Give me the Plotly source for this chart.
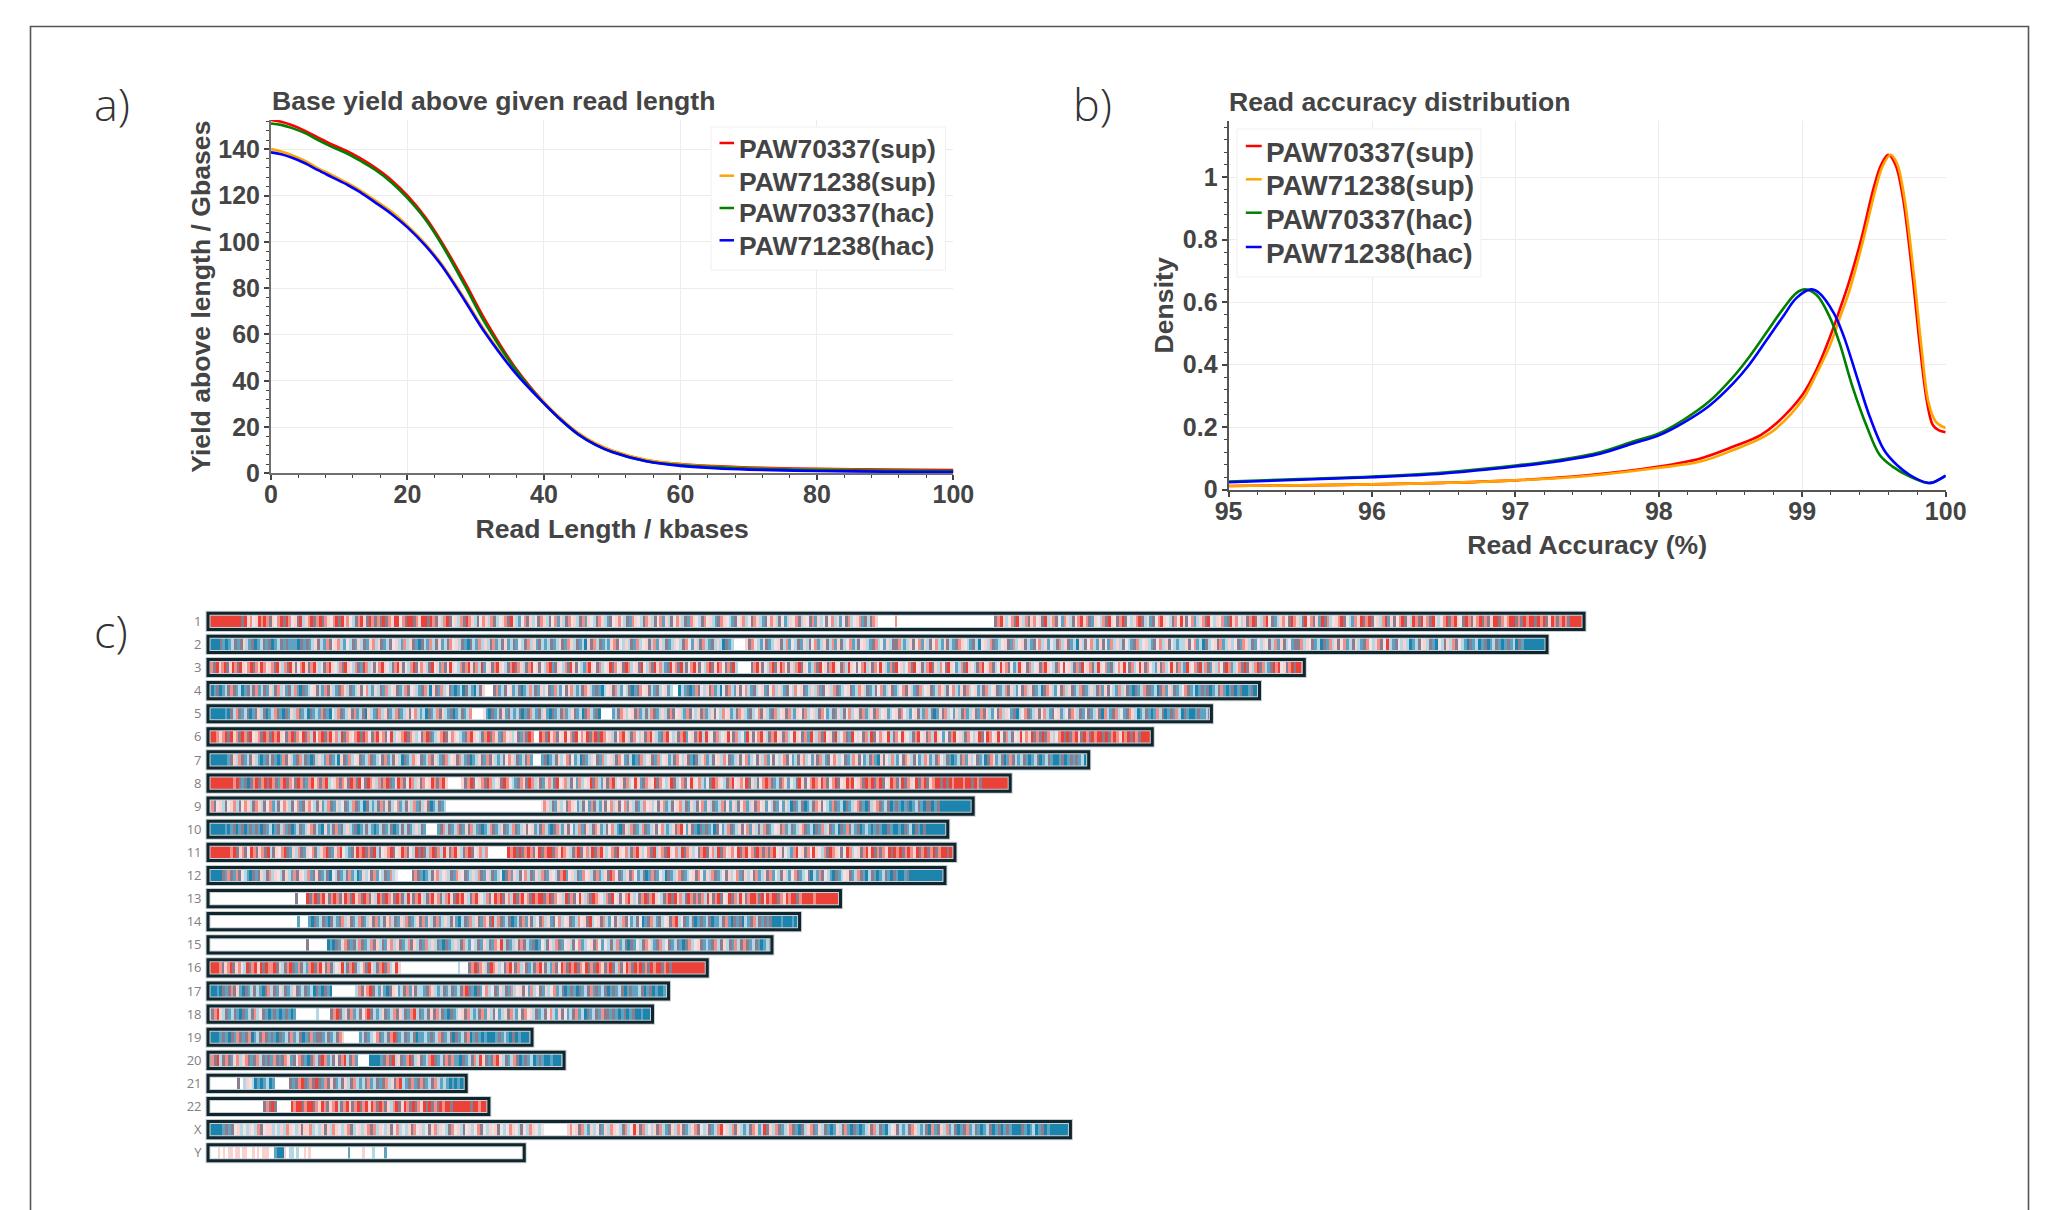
import plotly.graph_objects as go

W, H = 2052, 1210

SERIES = ["PAW70337(sup)", "PAW71238(sup)", "PAW70337(hac)", "PAW71238(hac)"]
COLORS = ["#ff0000", "#ffa500", "#008000", "#0000ff"]

# panel a: base yield above read length
LEN_KB = [0, 1.5, 3, 5, 6.9, 9, 11.3, 13, 15.2, 17.7, 20, 22.6, 25, 28.4, 31.4, 35.8, 40, 42.5, 45, 47.5, 50, 55, 60, 65, 70, 80, 90, 100]
YIELD_70337_SUP = [152.7, 151.9, 150.5, 148, 145.1, 142, 139, 136.3, 132.2, 126.6, 120, 110.8, 100, 82.6, 66.2, 45.6, 30.6, 23.4, 17.3, 12.8, 9.6, 5.6, 4, 3.1, 2.5, 1.9, 1.6, 1.4]
YIELD_71238_SUP = [140.1, 139.1, 137.6, 135, 131.8, 128.8, 125.3, 122.4, 118.1, 113, 107, 99.2, 90.5, 75.4, 61.4, 44, 30.8, 23.6, 17.5, 13, 9.9, 5.8, 3.9, 2.8, 2.2, 1.6, 1.2, 0.9]
YIELD_70337_HAC = [151.2, 150.6, 149.3, 147, 144, 141, 138, 135.2, 131.3, 125.6, 118.9, 109.8, 99, 81.2, 64.8, 45, 30.2, 23, 16.8, 12.4, 9.2, 5.2, 3.6, 2.7, 2.1, 1.5, 1.2, 1]
YIELD_71238_HAC = [138.7, 137.9, 136.5, 134, 131, 127.9, 124.5, 121.6, 117.2, 112, 106.3, 98.5, 89.8, 74.6, 60.6, 43.4, 30.2, 23, 16.9, 12.4, 9.2, 5.2, 3.2, 2.2, 1.6, 1, 0.7, 0.5]
YIELD = [YIELD_70337_SUP, YIELD_71238_SUP, YIELD_70337_HAC, YIELD_71238_HAC]

# panel b: read accuracy density
ACC_70337_SUP = [95, 95.5, 96, 96.5, 97, 97.5, 98, 98.29, 98.52, 98.71, 98.82, 99, 99.1, 99.19, 99.26, 99.33, 99.41, 99.5, 99.55, 99.6, 99.65, 99.7, 99.77, 99.82, 99.87, 99.91, 99.95, 100]
DENS_70337_SUP = [0.012, 0.014, 0.017, 0.022, 0.03, 0.046, 0.074, 0.1, 0.138, 0.175, 0.2125, 0.303, 0.385, 0.485, 0.575, 0.671, 0.8, 0.97, 1.04, 1.072, 1.04, 0.94, 0.68, 0.46, 0.28, 0.207, 0.191, 0.184]
ACC_71238_SUP = [95, 95.5, 96, 96.5, 97, 97.5, 98, 98.29, 98.52, 98.71, 98.82, 99, 99.1, 99.19, 99.26, 99.33, 99.42, 99.51, 99.56, 99.615, 99.66, 99.71, 99.78, 99.83, 99.88, 99.93, 100]
DENS_71238_SUP = [0.012, 0.014, 0.017, 0.022, 0.03, 0.044, 0.07, 0.09, 0.127, 0.164, 0.197, 0.287, 0.372, 0.458, 0.548, 0.639, 0.79, 0.96, 1.035, 1.072, 1.045, 0.94, 0.68, 0.46, 0.28, 0.218, 0.197]
ACC_70337_HAC = [95, 95.5, 96, 96.5, 97, 97.3, 97.59, 97.82, 98, 98.17, 98.35, 98.52, 98.63, 98.75, 98.87, 98.96, 99.02, 99.1, 99.19, 99.26, 99.35, 99.45, 99.54, 99.63, 99.75, 99.87, 99.91, 100]
DENS_70337_HAC = [0.026, 0.034, 0.042, 0.055, 0.077, 0.095, 0.12, 0.154, 0.18, 0.223, 0.282, 0.362, 0.425, 0.503, 0.581, 0.63, 0.641, 0.623, 0.554, 0.469, 0.33, 0.202, 0.111, 0.074, 0.042, 0.022, 0.023, 0.045]
ACC_71238_HAC = [95, 95.5, 96, 96.5, 97, 97.3, 97.59, 97.82, 98, 98.17, 98.35, 98.52, 98.63, 98.75, 98.87, 98.96, 99.06, 99.12, 99.22, 99.29, 99.38, 99.47, 99.57, 99.66, 99.75, 99.87, 99.91, 100]
DENS_71238_HAC = [0.024, 0.032, 0.04, 0.052, 0.074, 0.091, 0.115, 0.148, 0.174, 0.214, 0.268, 0.341, 0.4, 0.478, 0.557, 0.614, 0.641, 0.629, 0.565, 0.49, 0.362, 0.234, 0.127, 0.079, 0.047, 0.022, 0.023, 0.045]
ACC = [ACC_70337_SUP, ACC_71238_SUP, ACC_70337_HAC, ACC_71238_HAC]
DENS = [DENS_70337_SUP, DENS_71238_SUP, DENS_70337_HAC, DENS_71238_HAC]

# panel c: chromosome lengths (Mb) and stripe classes read along each chromosome
CHR_NAMES = [str(i) for i in range(1, 23)] + ["X", "Y"]
CHR_LENGTHS = [248.9, 242.2, 198.3, 190.2, 181.5, 170.8, 159.3, 145.1, 138.4, 133.8, 135.1, 133.3, 114.4, 107.0, 102.0, 90.3, 83.3, 80.4, 58.6, 64.4, 46.7, 50.8, 156.0, 57.2]
STRIPES = [
    "rrrrrrrrrrrrgrpswprs rsgpwsrgrswpgrlpsrgs rgspwsrgrpswlgsrpgrs gsgrgsprrwsgrrgsprrg rsgplsrgwplsgrsplgws plsglwpsgrplmwsgplwg splgwsmplgswplgsmpwl gsplmgwpswlgmspwlgs plgwsmplgwsplgmspwl gswplmgspwlmgwpslwgs plmgwsplgwmlpwsglpwg smplwgwslpmwgslwpsmg lgsp......s......... .................... ......gsrplwsgrplsgp swpgrlpsgwmsplgwsrps gmpwlsgrpwgsrgwlpsrg lpmgwsrpwlgswrpgwsml psgrwlpwsmgrpswlpgsr gplsrwgmlpswgrsplgrw sgpmrgslwpsrgwlmsprg srgwplsrmpgwsrgplrsg rpsgrplwsrgsrpwgrsgp srgsgprrgspsrrgsgrsr rgrsrgprsgsrsgrrrrr",
    "bbbbgmbmlgmgplmgbmlg mgbmlgmgmmmbgmgmlpgl msgwpslmwlgmplgmpsl pgmlgwplmslpgmbglmsl gpmlgswplgmbglmslplg smlgpmlgmwlgslpmglml gmlpgmsplgmlbpgslgml mpsgwlplgmslwpglsmpl gmlpwlgswmplgslmglpl bgml....pgswlmpgmlwp glsmwlgmplgwsmlpglsm pglwsmlgwplmgslwmplg gslmlpgwsmplgwslmpgl mgspwlmglbwplsgmlwpg mslwpglmgwslpmwlgslp gmlbplgwslmpgwmslplg wlmgslwplmgwslpgwlml lpgwsmlbglwpgsmlplwg msplgmwlpwglsmpglwmg gslpwgmlbgmslpgwsmlg plmgswlpsgwrlmgwlplb mlgwplgmbwlgplsgwlmb gmlbmgbmlgmbmgmlbgmb bbbbbbb",
    "rsgrpsrgprsgrpwsrgsp rswpsgrplsgrpgwsrpgs rplwgsrpwlsgrpwlsgm rslpgwsrpwlgsrpgwlsr gwsplgrwpmsgwrpwlsg srpgslrmwpgsrpwlgsrg splgsrwpgwlsrmgpwlsg rpgwlmsrpwgslwprgswp grslwpgrwlsgrpslmgrp sgrlgwsrpgwlsrgprswg sgrl.....gsrpgwlsrgp rswgplsrgpwmlsgrwpgs rpwgslrpwgwsrlpgswrp lmsgrwplwsgrwpglsrgp lswgrpwmlsgrpwlgsrwp sglwrpsgwmlrpwgslwpg srpwlgswrwplgsmrwpsg lrpwsmglwsprwgslwrpg swlmpgslwrpgslmrpwsg rlsgmplswgrsmlpsgrgp lsrgslmgrsrwpgsrgrrs",
    "gbmgbmlgsgmlbmglgsml gmplgslpmglsmbgmlwpg lmsgplmgsplgmlpgwslm plgmslwpgmlsgwplmgsl bpgmslwgmbmlbglmblgp ...gsmlgwpmlgbmlslgm plwgmslmwgpslmlgsplm gmblwpgslmwlgbmgswpg lmglwpml..blmgbmsgwl pgsmlbwgslmpgwslmglw pmgwslplmgwlswpgmlpl smgwplsgmlwpgmlsplgm lgwsmlpgmlwsgplmgslw pgmlsplgwslmpgslwpml gslwpgmlsgplmwgslpgm lbgsplmwgslpgmlsgmlp lgsmpgwlmslpgmbgmlsg gmlbgsmplgmlwsgmlbmg mgbmlgsmbmgbmgbbmgbb",
    "bbbbbbmbglsgmlgbmgpl gbmlsgmbgmplsgmlbgml msgmbwlsgmlpgsmlgbpl mgslpgmlsgmlpgwslmlb gmlsgplmgbmlgmls.... wmbgmlgpmglmlgbmgslm glpmbgmlgsmlpgmlbgsl mgb....mlgsplwpgsmlg lsgmlplgsgwplmsgwlpg smlpgwlswpmlgsplmglw sgplmgslwpgslmpwgslw plgswmlgmplgwslwpgsm lpgslwpmlwpgswlmwpgl mslgbmpgslwmplgsmlpg msgplmwgslpwmgblwsgm lpgwslmgwpmlwgsplgmw gmlpgbslmgslwmgsplbm lgmbmslgbmgmslbgmbbm gmmlg",
    "rrrspsrgrpsgrsgrwpsg rsgrsrpwgsrgsprgslrw srgsrpslrgspwsrgrswg srpsgwrlwpsrgsplwgsr gmlpsrgwspwlmgsrpwlg srgspmgswplwgmsgrs.. rsgrpsgwprwsgrwsprgs rgrswplgwsrplgswlpgs rplmgsrwlpgsrmwpgsrl rpwgslwprwgslwmrpgws rplgsrwpgslwrpwgsmrp lsgrwpgrlwsgmrwpwgsl rgwspwrlgswrpwlgsrwp gslrpwmwgsrwplgswlpr gwrswprwgslgwprwsprg sgrgsplwsrgrgsrpgrsg rsrrgrgsrsprsrgrsgrr rr",
    "bbbbbbbmgplsgmlgplmb mglgmbmsgplmgslgmbgl plmsgmlbpgmslwpgmlsg mlwgsmlgplbgmlspwgml sgplmgslwpgslmgbmlpg msgplmlgwsplgmlgsm.. .mgbmlgplwsgwmlbgmlp wgmslwplgswmglbmgslw pgmslwpmlgswlpgmbglp smlgwplswgmlpgwsmlwg plsmwgwlpsgwmlgpslwm pgslmgwsplwgmlspgwml gsmbpgwlslmwgsplgwml spmlgswlgmbmlgsmplwg mlbgspmlgbmsglmlgmbm lgbmlgmbbmgbmgmgmlbb",
    "rrrrrrrrrsrgmgbgsrgs rgrsgmsrgspgrsgmsrps gsrlwpsgspgrsgrwgrsp lsgsrgmprsgwrslpgswp rsgsrp.....pgsrgwpsg rslwpgrswlmgspgrslpg mpslgrwpslgwmslwprgs lmpgsrlwpgslwrpmgspw rgswlprglwsgwrpwslmw grspwlgsrwpswrgplgws rsgmlgspmwlgrpgwsrsp rsgwsrgwprsrwpsgrsrg srgwprsglrgspwrgsrgp srrgrgrsrrrsrrgrsgrr rrrrrrrr",
    "lsgwplgwpslgwsplgspl gwsmlgwsplgwsmgpswlg pmlsgmplwgmlsgmlbglm lgsmpglwsmlgplsmglpg bmlgml.............. .................... wsplgmplwgspwmlgwmsg lmpgwslpgwsmplgmlswp lwgpsmlgwpslgmplgwsm plgmlsgwmplgwsmlpgsw pmwlgmwmplbgmlgbmlgs pgwlmsgmlbgmlpsgmbgl psgmlgbmgmbmgbmlgmbg gbmgbbbbbbbbbbbb",
    "bbbbbbmbmgbmgbmgmgmb gmlbmglsmgbmlgmlpsgl mbpmlgsmglplmgbmlglm bmlgmlgbmlglgmlplgm. ...mgslgmlsgmpgslmgb mlsgmlpgmlsgmlpgwpml gslmbgslmpgwmlsmgplg spmlgwslmbgplsgmlsgm lpgwslmlpgsrwmpgmbgm gmlbgwmlsgmlpgwsmplg lsgmlwpgsmlgmlpsgmlb gmslpgmlbgmsglmgbmlm bmgmbbgmbbmbgmlbgmbg bbbbbbbb",
    "rrrrrrrrsrgpsgwrsgps grlgpwsrgmplsgmpwsgl psrgmpsrwlmgprsrgsg rlgwpsrgwprsgwlrgrgl srgslrpgsrplgsrgwpsl s.......rsrgrgsrsgprg srrgsprsplgsrgpslrgs rplwsgrpwslgsrplwsgr lpsgrpwslrgsplwgsrgp slrgswpswrgsrpsgrsgs gsrwpgwlmsrwpgswrpwl sgrspwgwrslwpgsrprgs gsprgrsrgsrsprgsrgsr gsrrgrr",
    "bbbbbgmsgmsgwlmbgmgp lgslpwlgplmsgpwlsmgp gmlgbwlgmlgsmlbmplwg smwlgmslw.....gsgmbml gpslwplgmspwgmlplsgm plgmlwbgsmplgwslgmpl sgmpwlgsrmwplgmswplg smlpgrswgmlpgswmlgbm sgmwlbgmlpsgmlwpgswm plsgmlwgplwsmgplwgsm lpgsmwlgplmwsgmlwgbl msgwlmbgmlwpgmlsgmbl gmbmlgmbgmbbmgbbbbbb bbbbbbb",
    ".................... ............g...rgsr gsrpgsrsgprsgrpsgrsg plrsgrspgrsglrpgsrpl gsrpsglsrpgrsrplgsrp wlsgprsrgpslrgsrpsgr srrgsrgswplrgsgwrpls grspwlsgrwpgwsrplwgs rgsrpwlgsrgrpslgrsgs gslrpgsrgwprgslrpgsr rsgrprsrrgsprsrrgsrr rrsrrrrrrrrr",
    ".................... ............m...mbgm lgmbglmgslpgmlsgmlpg smlgpslgmplsgmlpgsmp lgsmlplgpmblgmslpgms pgrlsgmlgbmlgsmpglwg slpmgwslwpgmlswpgrlw pgslmwgplsgwmlgwbmgs lmglwpgsrlwgmlgbmgml gbmmlgsmbgmgblmgslgm gmgbbbmbbbmbb",
    ".................... ..............g.... ..bmbgmpsgmglsgmlsgp lgmpslpgmlsgplgmslpl gmbgmlplgslmwlgmplgm sprlgmlpgsglmgbmwlgp lsgmwplgwsmlwpgswmwl glsmlgbgmwlgsplmgslw gmlgmbgslwpgmlmgslgp lgmsl gsgmlgmbmlg",
    "rrrrsgpsrgpswlrgsrpr grssrgplgsrgmsglmsr gsrpgsglwprlgsrglwsg rplgsrgslwrp........ .............l...gsr gsplgrsplwgsrpgslpgm lgsrpglmsgwrsgrsrgsp rgsgrspgsrglsgprsgrs rgsgrsrrgsrgrrrrrrrr rrrrr",
    "bbbmbgmgsgpmbgmlglmb gslgmplgmlpgmlgmlbg mbgmb........lsgpsrg lmpmbgpwmlgsmpgllmgs plmlgmlgmlgsrgmbgmws lwgmplgmslwpgwmslwgm plwsmlgbmgmbgmlgsmgm lgbmgmlgbmgmmlgbmgbm bbmb",
    "lgsrplgmlgmbgmlgslwg mbmgmbmgmbm.......l. ...gsrglpgsmlgwsrgl mlpgmlsgplgmsrlgmlgp gslgmbgmlwpgslmlgsmp lgwmlpgslmwgswplgmlg wslmpgwmlgsmlbgmlgms ggmgmbmgbmgbbmbbb",
    "bbbbmgmbgmsgmgsbmlgs gmgmbgmlgsmlgbmgsmg gmlgmlgsp.....mlgmlw sgmlgsrgmlgmlgbmmlmg mlsgmlgbgmlgsbmgmbmb bbmgmlmbgbmbbbm",
    "gsgrlgsgmpslpsgmgslg mgmsgmgspmgwsgmbgsl grsmlgwgsrlgsm....bb bbmgsgrlpgmsrglpgmls rgmlgsgsmmbgmlgslrpg mgsrplgmls gbmgmlbmgmbbmbbbm",
    "..........g.lpwlbmbm lbm.....gmgsrgmsgrg msgpgmlgplgslmlgsmlg mgslpgsrlmgs mgsgmlgslmlmbmbmbb",
    "....................gsgrg.....rsrrgsrrg sprsgpsrlgsrpgsrgsrp rsgrsgplsrgp rsgrgsprgrgsgrsrrgrr rrrrgrrsrrr",
    "bbbbbmgmgwplwlpwlsgw pplwlplspwlpgppslwl pgplspwlpsglwplpsgsl pwlpgwslwlpgswplwgps lpwlgswplgwplwsgwlpw pgwlwspwlgwlspwlw... .....pswpgslmplwgmpl spwlgslwrpgslwlpgslm gplspgmlpsgwlpgmlsrw plsgplmlgspmlrgplsgm lpsgmbglpsgmplgmbmpl gsmbgmbmlpgslgmblwpg lmlgsplmlgbsmgplsmlg bmgsmlgmbmlgbmgbmgmb bbgmbmlbmgbmbbbbbbb",
    "....p.p.pp.pp.pp.. p.p.ppp..mbbbp.ll.l. .p.p.............. .m.....p...l....m... .................... .................... ............b",
]
STRIPE_CLASSES = ".wpsrlmbg"
STRIPE_COLORS = ["#ffffff", "#eee4e8", "#f9d2cf", "#f18f88", "#ea4138", "#b3d7e5", "#5ea3c2", "#1d84ad", "#8b7d8e"]


def fx(px):
    return px / W


def fy(px):
    return 1 - px / H


n = len(STRIPE_COLORS)
stepped = []
for i, c in enumerate(STRIPE_COLORS):
    stepped += [[i / n, c], [(i + 1) / n, c]]

fig = go.Figure()

for name, color, ys in zip(SERIES, COLORS, YIELD):
    fig.add_trace(go.Scatter(x=LEN_KB, y=ys, name=name, mode="lines", xaxis="x", yaxis="y", showlegend=False,
                             line=dict(color=color, width=2.6, shape="spline", smoothing=1.0)))

for name, color, xs, ys in zip(SERIES, COLORS, ACC, DENS):
    fig.add_trace(go.Scatter(x=xs, y=ys, name=name, mode="lines", xaxis="x2", yaxis="y2", showlegend=False,
                             line=dict(color=color, width=2.6, shape="spline", smoothing=1.0)))

for row, (length, text) in enumerate(zip(CHR_LENGTHS, STRIPES)):
    cells = text.replace(" ", "")
    step = length / len(cells)
    fig.add_trace(go.Heatmap(z=[[STRIPE_CLASSES.index(c) + 0.5 for c in cells]], x0=step / 2, dx=step, y0=row, dy=0.74,
                             xaxis="x3", yaxis="y3", colorscale=stepped, zmin=0, zmax=n, showscale=False, hoverinfo="skip"))

for line_color, line_width in [("#c9d0d3", 5), ("#10262e", 3)]:
    fig.add_trace(go.Bar(x=CHR_LENGTHS, y=list(range(len(CHR_LENGTHS))), orientation="h", width=0.7, xaxis="x3", yaxis="y3",
                         marker=dict(color="rgba(0,0,0,0)", line=dict(color=line_color, width=line_width)),
                         showlegend=False, hoverinfo="skip"))

INK = "#444444"
tick_font = dict(family="Liberation Sans", size=25, color=INK, weight="bold")
title_font = dict(family="Liberation Sans", size=26.6, color=INK, weight="bold")


def line_axis(domain, rng, major, minor, title, standoff, axis_color, label_standoff):
    return dict(domain=domain, range=rng, tick0=0, dtick=major, ticks="outside", ticklen=5, tickwidth=1.5, tickcolor=INK,
                minor=dict(dtick=minor, tick0=0, ticks="outside", ticklen=3, tickwidth=1, tickcolor=INK, showgrid=False),
                showgrid=True, gridcolor="#ececec", gridwidth=1.2, zeroline=False, showline=True, linecolor=axis_color,
                linewidth=2, tickfont=tick_font, ticklabelstandoff=label_standoff,
                title=dict(text=title, font=title_font, standoff=standoff))


def legend_marks(left, right, text_left, box, text_rows, line_rows, size):
    shapes = [dict(type="rect", xref="paper", yref="paper", layer="above", x0=fx(box[0]), x1=fx(box[1]), y0=fy(box[3]), y1=fy(box[2]),
                   fillcolor="white", line=dict(color="#f0f0f0", width=1))]
    notes = []
    for name, color, ty, ly in zip(SERIES, COLORS, text_rows, line_rows):
        shapes.append(dict(type="line", xref="paper", yref="paper", layer="above", x0=fx(left), x1=fx(right), y0=fy(ly), y1=fy(ly),
                           line=dict(color=color, width=2.5)))
        notes.append(dict(text=name, x=fx(text_left), y=fy(ty), xref="paper", yref="paper", xanchor="left", yanchor="middle",
                          showarrow=False, font=dict(family="Liberation Sans", size=size, color=INK, weight="bold")))
    return shapes, notes


legend_a_shapes, legend_a_notes = legend_marks(719.5, 734, 737, (711, 945.5, 127, 270), (149.3, 181.7, 213.3, 246), (143, 175.7, 208, 240.3), 26.5)
legend_b_shapes, legend_b_notes = legend_marks(1245.8, 1261.7, 1264, (1237, 1481, 129, 277), (152.3, 185.7, 219.3, 253.3), (146, 179.3, 212.7, 247), 28)

layout = dict(
    width=W, height=H, margin=dict(l=0, r=0, t=0, b=0, autoexpand=False), paper_bgcolor="white", plot_bgcolor="white",
    showlegend=False, barmode="overlay",
    xaxis=dict(**line_axis([fx(271), fx(953.4)], [0, 100], 20, 4, "Read Length / kbases", 12, "#707070", -7), anchor="y"),
    yaxis=dict(**line_axis([fy(473.3), fy(120)], [0, 152.7], 20, 4, "Yield above length / Gbases", 0, "#707070", -1), anchor="x"),
    xaxis2=dict(**line_axis([fx(1228.6), fx(1945.7)], [95, 100], 1, 0.2, "Read Accuracy (%)", 12, "#555555", -7), anchor="y2"),
    yaxis2=dict(**line_axis([fy(489.7), fy(121)], [0, 1.18], 0.2, 0.04, "Density", 2, "#555555", -1), anchor="x2"),
    xaxis3=dict(domain=[fx(202.5), fx(1861)], range=[-1, 299], visible=False, anchor="y3"),
    yaxis3=dict(domain=[fy(1164.3), fy(609.75)], range=[23.5, -0.5], anchor="x3", tickmode="array",
                tickvals=list(range(len(CHR_NAMES))), ticktext=CHR_NAMES, showgrid=False, zeroline=False, showline=False,
                ticks="", tickfont=dict(family="Open Sans", size=13, color="#808080")),
    shapes=[dict(type="rect", xref="paper", yref="paper", x0=fx(30.5), x1=fx(2028.5), y0=fy(1240), y1=fy(26.5),
                 line=dict(color="#555555", width=1.6), fillcolor="rgba(0,0,0,0)")] + legend_a_shapes + legend_b_shapes,
    annotations=[
        dict(text="Base yield above given read length", x=fx(270), y=fy(100.5), xref="paper", yref="paper", xanchor="left",
             yanchor="middle", showarrow=False, font=title_font),
        dict(text="Read accuracy distribution", x=fx(1227), y=fy(101.5), xref="paper", yref="paper", xanchor="left",
             yanchor="middle", showarrow=False, font=title_font),
    ] + legend_a_notes + legend_b_notes + [
        dict(text=t, x=fx(xx), y=fy(yy), xref="paper", yref="paper", xanchor="left", yanchor="middle",
             showarrow=False, font=dict(family="Open Sans", size=45, color="#333333", weight=300))
        for t, xx, yy in [("a)", 92, 104), ("b)", 1071, 104), ("c)", 92, 630)]
    ],
)
fig.update_layout(**layout)

fig.write_html("out.html", post_script="document.body.style.margin='0';", config={"displayModeBar": False})
